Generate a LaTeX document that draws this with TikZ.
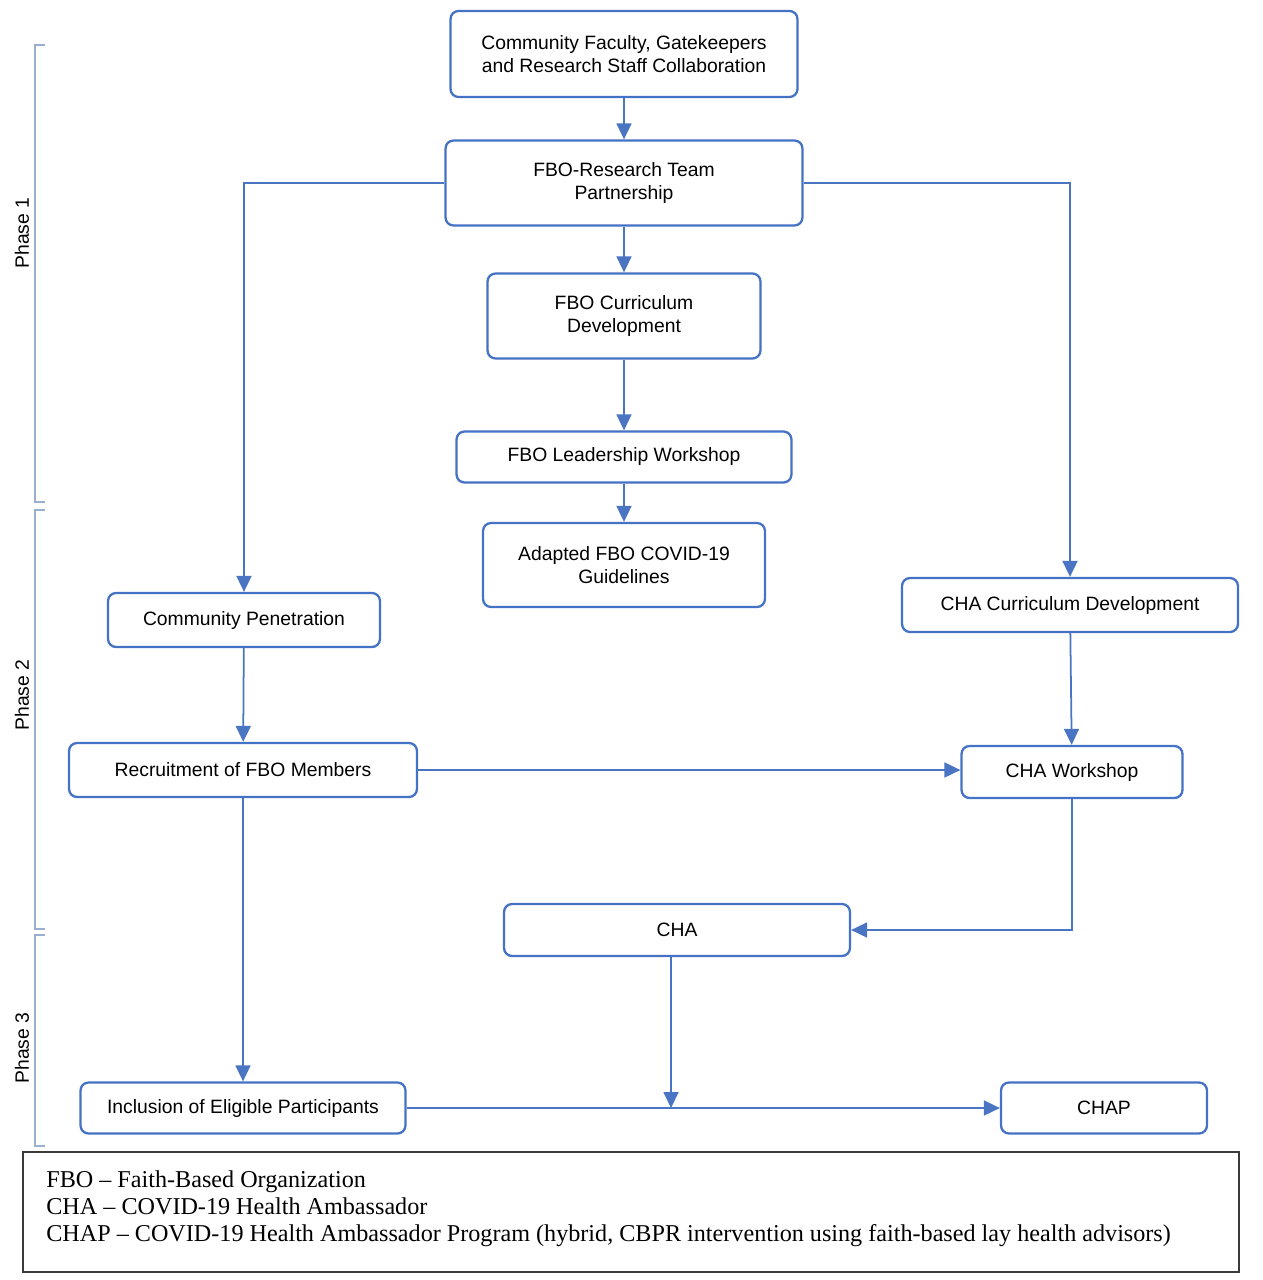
\documentclass[tikz,border=0pt]{standalone}
\usepackage{fontspec}
\setmainfont{Liberation Serif}
\setsansfont{Liberation Sans}
\usetikzlibrary{arrows.meta, calc}
\definecolor{boxblue}{HTML}{4472C4}
\definecolor{lineblue}{HTML}{4A75C2}
\definecolor{phasegray}{HTML}{9AAFCF}
\definecolor{legendgray}{HTML}{3A3A3A}

\begin{document}
\begin{tikzpicture}[x=0.02cm, y=-0.02cm]
\tikzset{
    box/.style={draw=boxblue, line width=1.3pt, rounded corners=0.16cm, fill=white,
        align=center, inner sep=2pt, font=\fontsize{11}{13}\sffamily\selectfont},
    conn/.style={draw=lineblue, line width=1pt, -{Triangle[width=0.3cm, length=0.32cm]}},
    bracket/.style={draw=phasegray, line width=1.2pt},
    phase/.style={rotate=90, font=\fontsize{11}{13}\sffamily\selectfont},
}
\useasboundingbox (0,0) rectangle (1263,1280);

  % phases
  \draw[bracket] (45,45) -- (35,45) -- (35,502) -- (45,502);
  \draw[bracket] (45,510) -- (35,510) -- (35,929) -- (45,929);
  \draw[bracket] (45,935) -- (35,935) -- (35,1146) -- (45,1146);
  \node[phase] (phaseA) at (22,233) {Phase 1};
  \node[phase] (phaseB) at (22,695) {Phase 2};
  \node[phase] (phaseC) at (22,1048) {Phase 3};

  % middle column
  \node[box, minimum width=6.94cm, minimum height=1.72cm] (collab) at (624,54)
      {Community Faculty, Gatekeepers\\and Research Staff Collaboration};
  \node[box, minimum width=7.14cm, minimum height=1.7cm] (partner) at (624,183)
      {FBO-Research Team\\Partnership};
  \node[box, minimum width=5.46cm, minimum height=1.7cm] (fbocurr) at (624,316)
      {FBO Curriculum\\Development};
  \node[box, minimum width=6.7cm, minimum height=1.02cm] (leader) at (624,457)
      {FBO Leadership Workshop};
  \node[box, minimum width=5.64cm, minimum height=1.68cm] (guide) at (624,565)
      {Adapted FBO COVID-19\\Guidelines};
  \node[box, minimum width=6.92cm, minimum height=1.04cm] (cha) at (677,930) {CHA};

  % left column
  \node[box, minimum width=5.44cm, minimum height=1.08cm] (penetr) at (244,620)
      {Community Penetration};
  \node[box, minimum width=6.96cm, minimum height=1.08cm] (recruit) at (243,770)
      {Recruitment of FBO Members};
  \node[box, minimum width=6.5cm, minimum height=1.02cm] (incl) at (243,1108)
      {Inclusion of Eligible Participants};

  % right column
  \node[box, minimum width=6.72cm, minimum height=1.08cm] (chacurr) at (1070,605)
      {CHA Curriculum Development};
  \node[box, minimum width=4.42cm, minimum height=1.04cm] (chawork) at (1072,772)
      {CHA Workshop};
  \node[box, minimum width=4.12cm, minimum height=1.02cm] (chap) at (1104,1108) {CHAP};

  % legend
  \node[draw=legendgray, line width=1pt, minimum width=24.32cm, minimum height=2.4cm] (legend)
      at (631,1212) {};
  \node[anchor=north west, align=left, inner sep=0pt, font=\fontsize{13.75}{15.6}\selectfont]
      (legendtext) at (46,1170)
      {FBO -- Faith-Based Organization\\
       CHA -- COVID-19 Health Ambassador\\
       CHAP -- COVID-19 Health Ambassador Program (hybrid, CBPR intervention using faith-based lay health advisors)};

  % connectors
  \coordinate (hit) at (671,1108);
  \draw[conn] (collab) -- (partner);
  \draw[conn] (partner) -- (fbocurr);
  \draw[conn] (fbocurr) -- (leader);
  \draw[conn] (leader) -- (guide);
  \draw[conn] (partner.west) -| (penetr.north);
  \draw[conn] (partner.east) -| (chacurr.north);
  \draw[conn] (penetr) -- (recruit);
  \draw[conn] (recruit.east) -- (recruit.east -| chawork.west);
  \draw[conn] (chacurr) -- (chawork);
  \draw[conn] (chawork.south) |- (cha.east);
  \draw[conn] (recruit) -- (incl);
  \draw[conn] (incl.east) -- (chap.west);
  \draw[conn] (cha.south -| hit) -- (hit);
\end{tikzpicture}
\end{document}
